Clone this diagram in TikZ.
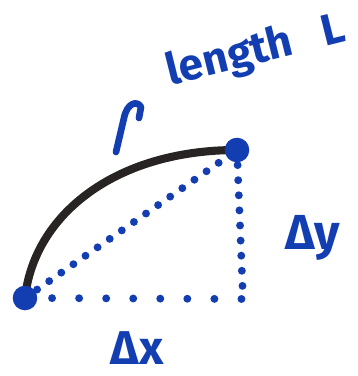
\documentclass[tikz,border=0pt]{standalone}
\usepackage{fontspec}
\setsansfont{Fira Sans}
\definecolor{penblue}{RGB}{18,62,178}
\definecolor{penblack}{RGB}{40,36,36}
\begin{document}
\begin{tikzpicture}[x=0.02cm,y=-0.02cm,
  dotline/.style={penblue, line width=4.5pt, line cap=round, dash pattern=on 0pt off #1},
  arcline/.style={penblack, line width=4.6pt, line cap=round},
  hookline/.style={penblue, line width=3.8pt, line cap=round, line join=round},
  handtext/.style={penblue, font=\sffamily\bfseries, inner sep=0pt}]
  \useasboundingbox (0,0) rectangle (358,376);
  \coordinate (A) at (25,298);
  \coordinate (B) at (237,150);
  \coordinate (C) at (243,299);
  \draw[dotline=8.4pt] (A) -- (B);
  \draw[dotline=8.6pt] (B) -- (C);
  \draw[dotline=15.4pt] (A) -- (C);
  \draw[arcline] (A) .. controls (34,215) and (115,150) .. (B);
  \fill[penblue] (A) circle (7pt);
  \fill[penblue] (B) circle (7pt);
  \draw[hookline] (116,152) -- (124,118) .. controls (127,103) and (137,100) .. (141,107) -- (139,118);
  \node[handtext, rotate=14, font=\sffamily\bfseries\fontsize{25}{25}\selectfont] (lenlabel) at (256,52) {length\hspace{0.7em}L};
  \node[handtext, font=\sffamily\bfseries\fontsize{28}{28}\selectfont] (dylabel) at (313,238) {Δy};
  \node[handtext, font=\sffamily\bfseries\fontsize{27}{27}\selectfont] (dxlabel) at (137,348) {Δx};
\end{tikzpicture}
\end{document}
